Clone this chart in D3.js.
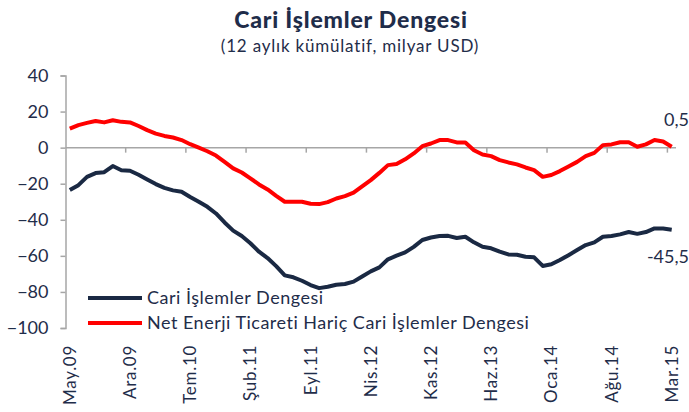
<!DOCTYPE html>
<html><head><meta charset="utf-8">
<script src="https://cdn.jsdelivr.net/npm/d3@7"></script>
<style>
html,body{margin:0;padding:0;background:#fff;}
svg{display:block;font-family:Lato,"Open Sans",sans-serif;}
</style></head>
<body><svg id="chart" width="689" height="412"></svg>
<script>
const monthNames = ["Oca","Şub","Mar","Nis","May","Haz","Tem","Ağu","Eyl","Eki","Kas","Ara"];
const startYear = 2009, startMonth = 4, nMonths = 71;
const categories = [];
for (let k = 0; k < nMonths; k++) {
  const m = (startMonth + k) % 12, y = startYear + Math.floor((startMonth + k) / 12);
  categories.push(monthNames[m] + "." + String(y).slice(2));
}
const cariValues = [-23.5,-20.8,-16.2,-14.1,-13.6,-10.2,-12.5,-12.8,-15,-17.6,
  -20.2,-22.3,-23.7,-24.5,-27.4,-30,-32.8,-36.5,-41.5,-46,
  -49,-53,-57.7,-61.2,-65.7,-70.8,-71.9,-73.8,-76.2,-77.9,
  -77.1,-76,-75.6,-74.3,-71.4,-68.6,-66.4,-61.9,-59.9,-58.1,
  -55,-51.2,-49.8,-49,-48.9,-50.1,-49.4,-52.5,-55,-55.8,
  -57.7,-59.2,-59.4,-60.5,-60.8,-65.6,-64.7,-62.3,-59.6,-56.8,
  -54,-52.5,-49.4,-49,-48.1,-46.8,-47.8,-46.8,-44.8,-44.8,-45.5];
const netEnerjiValues = [10.5,12.5,13.7,14.8,14,15.2,14.3,14,12,9.7,
  7.8,6.5,5.6,4.2,1.9,0,-2,-4.4,-7.9,-11.5,
  -13.8,-17,-20.4,-23.2,-26.7,-30,-30,-30,-31.1,-31.3,
  -30.2,-28.2,-26.9,-25,-21.5,-18,-14,-9.7,-9.1,-6.5,
  -3.2,0.8,2.3,4.2,4.2,2.9,2.9,-1.4,-3.8,-4.7,
  -6.9,-8.2,-9.3,-11,-12.5,-16.2,-15.2,-13,-10.4,-7.9,
  -4.7,-2.9,1.4,1.8,3,3,0.5,1.8,4.2,3.4,0.5];
const yTicks = [40,20,0,-20,-40,-60,-80,-100];
const seriesNames = ["Cari İşlemler Dengesi","Net Enerji Ticareti Hariç Cari İşlemler Dengesi"];
const endLabels = ["-45,5","0,5"];
const title = "Cari İşlemler Dengesi";
const subtitle = "(12 aylık kümülatif, milyar USD)";

const navy = "#1a2943", red = "#ff0000", axisGray = "#a6a6a6", textCol = "#1f2d4a";
const svg = d3.select("#chart");
const x = d3.scaleBand().domain(categories).range([65.5, 676]).padding(0);
const y = d3.scaleLinear().domain([-100, 40]).range([328, 75.5]);
const cx = c => x(c) + x.bandwidth() / 2;

svg.append("text").attr("x", 351).attr("y", 28).attr("text-anchor", "middle")
  .attr("font-size", 23).attr("font-weight", "900").attr("letter-spacing", 0.8)
  .attr("fill", textCol).text(title);
svg.append("text").attr("x", 350).attr("y", 52).attr("text-anchor", "middle")
  .attr("font-size", 17).attr("letter-spacing", 0.8).attr("fill", textCol).text(subtitle);

// y axis
const yAxis = svg.append("g").attr("transform", "translate(65.5,0)")
  .call(d3.axisLeft(y).tickValues(yTicks).tickSize(5).tickPadding(12).tickFormat(d3.format("d")));
yAxis.select(".domain").attr("stroke", axisGray).attr("stroke-width", 1.5);
yAxis.selectAll(".tick line").attr("stroke", axisGray).attr("stroke-width", 1.5);
yAxis.selectAll(".tick text").attr("font-size", 18).attr("fill", textCol)
  .attr("font-family", "Lato,'Open Sans',sans-serif");

// x axis along zero line
const tickCats = categories.filter((c, i) => i % 7 === 0);
const xg = svg.append("g").attr("transform", `translate(0,${y(0)})`);
xg.append("line").attr("x1", 65.5).attr("x2", 676).attr("stroke", axisGray).attr("stroke-width", 1.5);
xg.selectAll("line.tk").data(tickCats.slice(1)).join("line").attr("class", "tk")
  .attr("x1", d => x(d)).attr("x2", d => x(d)).attr("y1", 0).attr("y2", 5)
  .attr("stroke", axisGray).attr("stroke-width", 1.5);
svg.selectAll("text.xl").data(tickCats).join("text").attr("class", "xl")
  .attr("transform", d => `translate(${cx(d) + 6},345) rotate(-90)`)
  .attr("text-anchor", "end").attr("font-size", 17).attr("letter-spacing", 0.7)
  .attr("fill", textCol).text(d => d);

// lines
const line = d3.line().x((d, i) => cx(categories[i])).y(d => y(d)).curve(d3.curveLinear);
svg.append("path").datum(netEnerjiValues).attr("d", line).attr("fill", "none")
  .attr("stroke", red).attr("stroke-width", 4).attr("stroke-linejoin", "round");
svg.append("path").datum(cariValues).attr("d", line).attr("fill", "none")
  .attr("stroke", navy).attr("stroke-width", 4).attr("stroke-linejoin", "round");

// end labels
svg.append("text").attr("x", 689).attr("y", y(cariValues[70]) + 33).attr("text-anchor", "end")
  .attr("font-size", 18).attr("fill", textCol).text(endLabels[0]);
svg.append("text").attr("x", 689).attr("y", y(netEnerjiValues[70]) - 21).attr("text-anchor", "end")
  .attr("font-size", 18).attr("fill", textCol).text(endLabels[1]);

// legend
const legendY = [298, 323];
const legendColors = [navy, red];
seriesNames.forEach((n, i) => {
  svg.append("line").attr("x1", 88).attr("x2", 142).attr("y1", legendY[i]).attr("y2", legendY[i])
    .attr("stroke", legendColors[i]).attr("stroke-width", 4);
  svg.append("text").attr("x", 147).attr("y", legendY[i] + 6).attr("font-size", 18)
    .attr("letter-spacing", 0.5).attr("fill", textCol).text(n);
});
</script></body></html>
